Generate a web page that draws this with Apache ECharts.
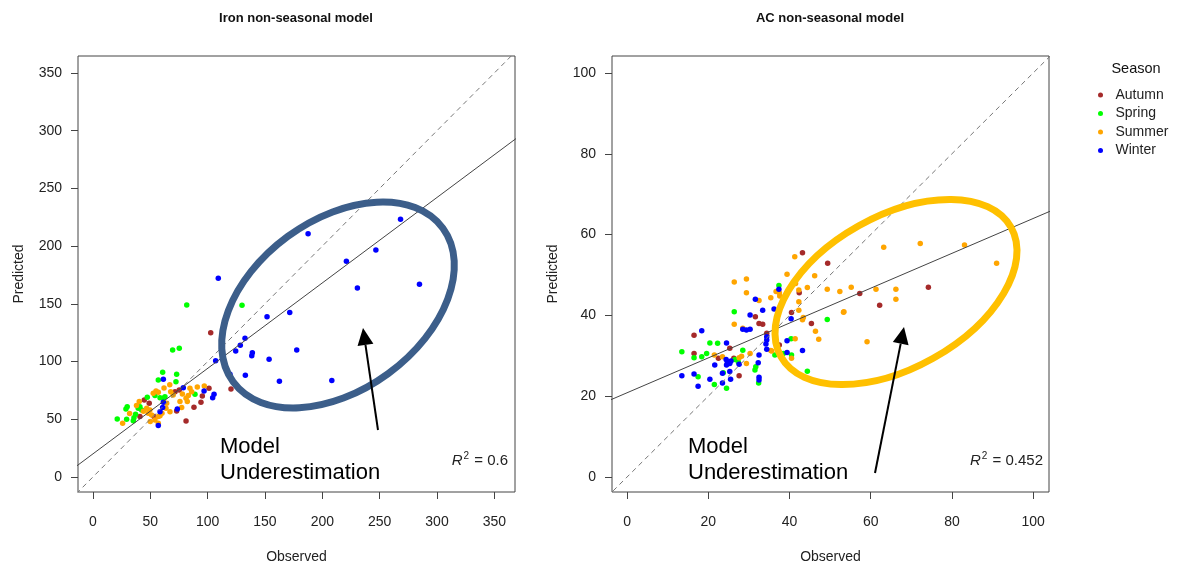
<!DOCTYPE html>
<html>
<head>
<meta charset="UTF-8">
<title>non-seasonal model</title>
<script src="https://cdn.jsdelivr.net/npm/echarts@6/dist/echarts.min.js"></script>
</head>
<body style="margin:0;background:#fff">
<div id="main" style="width:1184px;height:567px;"></div>
<script type="text/javascript">
// seasons + colours (R: brown, green, orange, blue)
var seasons = ['Autumn', 'Spring', 'Summer', 'Winter'];
var seasonColors = ['#A52A2A', '#00FF00', '#FFA500', '#0000FF'];

// Iron panel: [observed, predicted]
var ironAutumn = [[102.7,125],[120.4,76.3],[101.2,76.8],[95.4,70.2],[94.2,64.7],[88.1,60.4],[81.2,48.5],[71.6,73.9],[75.3,75.4],[73,57.2],[44.8,66.7],[49.1,63.9],[41,52.3],[53.2,52.3]];
var ironSpring = [[81.8,149],[130,148.8],[69.5,110],[75.3,111.5],[60.8,90.7],[73,89],[72.4,82.6],[57,84],[89,71.7],[54.1,70.5],[58.5,68.7],[62.8,69.6],[47.4,69.1],[39.5,59.5],[41,60.9],[42.5,58.1],[29.9,60.9],[28.8,58.9],[37.2,54.3],[35.8,51.4],[21.2,50.3],[29.4,50],[35.2,48.8],[61.4,68.2]];
var ironSummer = [[97.1,78.9],[84.6,76.9],[83.2,70.5],[81.2,68.2],[82.3,65.3],[75.9,65.3],[77.4,60.1],[67.8,73.9],[64.3,63.9],[63.7,59.5],[67.2,56.6],[55,74.5],[57,73.4],[52.6,72.5],[40.4,65.3],[46.9,59.5],[49.7,58.1],[48.3,55.2],[51.2,53.7],[25.9,46.5],[54.1,49.4],[57,52.3],[58.5,53.1],[57,46.5],[86.1,73.9],[70,71],[91,78],[60.2,55.2],[44,57],[38,62],[32,55],[50,48],[78,72],[62,77],[67,80]];
var ironWinter = [[109.3,172.2],[187.6,210.8],[268.2,223.3],[246.7,196.7],[221,186.9],[230.6,163.8],[284.7,167],[151.8,138.9],[171.6,142.4],[132.6,120.2],[128.5,114.1],[124.5,109.2],[139,107.7],[138.5,105.1],[153.6,102],[177.7,110],[107,100.8],[119.5,89],[132.9,88.1],[162.6,82.9],[208.3,83.5],[96.9,74.5],[105.6,71.7],[104.4,68.7],[78.8,77.4],[61.4,84.7],[61.4,64.7],[60.8,60.1],[73.6,58.9],[58.5,56.6],[57,44.5]];

// AC panel: [observed, predicted]
var acAutumn = [[43.2,55.5],[49.4,52.9],[40.5,40.7],[45.4,38],[31.6,39.7],[32.5,38],[33.4,37.8],[34.4,35.6],[37.5,32.7],[16.5,35.1],[16.5,30.6],[22.5,29.4],[25.3,31.9],[26.3,29.4],[27.6,25.1],[74.2,47],[57.3,45.4],[62.2,42.5],[42.4,45.6]];
var acSpring = [[37.4,47.4],[26.4,40.9],[49.3,39],[40.4,34.2],[36.4,30.2],[38.5,30.6],[40.5,30.2],[44.4,26.2],[20.4,33.2],[22.3,33.1],[13.5,31],[16.5,29.5],[18.4,29.8],[19.6,30.6],[26.6,29.1],[27.4,28.5],[28.5,31.4],[31.7,27.3],[31.5,26.5],[32.4,23.3],[17.5,24.8],[21.5,22.9],[24.5,22],[23.7,25.8]];
var acSummer = [[41.3,54.5],[46.2,49.8],[39.4,50.2],[44.4,46.9],[42.3,46.3],[49.3,46.5],[52.4,45.9],[41.5,47.9],[36.7,45.9],[37.5,45.6],[37.6,44.8],[35.4,44.4],[26.4,48.3],[29.4,49],[29.4,45.6],[32.5,43.7],[42.3,43.4],[42.3,41.3],[43.4,39.5],[43.2,38.9],[46.4,36.1],[47.2,34.1],[53.4,40.9],[26.4,37.8],[28.5,36.8],[41.4,34.2],[35.4,31.3],[40.5,29.4],[21.5,30.2],[23.5,29.8],[27.6,29.5],[28.2,29.9],[30.3,30.6],[29.4,28.1],[63.2,56.9],[72.2,57.8],[83.1,57.4],[91,52.9],[66.2,46.5],[66.2,44],[61.3,46.5],[55.2,47],[53.3,40.8],[59.1,33.5],[35.6,31.2]];
var acWinter = [[37.4,46.5],[31.6,44],[33.4,41.3],[36.2,41.6],[40.4,39.2],[30.3,40.1],[29.4,36.4],[30.3,36.6],[28.5,36.6],[34.4,33.9],[34.2,32.9],[39.4,33.7],[43.2,31.3],[34.4,31.6],[39.4,30.8],[18.4,36.2],[24.5,33.2],[24.4,29.1],[24.7,28.5],[25.3,28.1],[24.5,27.7],[27.6,27.9],[32.5,30.2],[32.3,28.3],[32.5,24.7],[32.5,24],[21.6,27.7],[23.5,25.7],[25.3,26.1],[25.5,24.2],[23.5,23.3],[20.4,24.2],[13.5,25.1],[16.5,25.5],[17.5,22.5],[34.4,34.7],[25.6,28.7]];

// reference lines (1:1 dashed, fitted solid), end points
var ironOneToOne = [[-20,-20],[380,380]];
var ironFit = [[-20,5.2],[380,301.4]];
var acOneToOne = [[-5,-5],[110,110]];
var acFit = [[-5,18.7],[110,68.3]];

// tick labels
var ironTicks = [0,50,100,150,200,250,300,350];
var acTicks = [0,20,40,60,80,100];

var FONT = '"Liberation Sans", Arial, sans-serif';

var myChart = echarts.init(document.getElementById('main'));

function xAxisOf(gi, min, max, ticks) {
    return {
        type: 'value', gridIndex: gi, min: min, max: max,
        name: 'Observed', nameLocation: 'middle', nameGap: 58,
        nameTextStyle: {fontSize: 14, color: '#222', fontFamily: FONT},
        axisLine: {show: false, onZero: false},
        splitLine: {show: false},
        axisTick: {show: true, length: 7, customValues: ticks, lineStyle: {color: '#444'}},
        axisLabel: {customValues: ticks, margin: 23, fontSize: 14, color: '#222', fontFamily: FONT}
    };
}
function yAxisOf(gi, min, max, ticks) {
    return {
        type: 'value', gridIndex: gi, min: min, max: max,
        name: 'Predicted', nameLocation: 'middle', nameGap: 52,
        nameTextStyle: {fontSize: 14, color: '#222', fontFamily: FONT},
        axisLine: {show: false, onZero: false},
        splitLine: {show: false},
        axisTick: {show: true, length: 7, customValues: ticks, lineStyle: {color: '#444'}},
        axisLabel: {customValues: ticks, margin: 16, fontSize: 14, color: '#222', fontFamily: FONT}
    };
}
function pts(i, data, gi) {
    return {
        type: 'scatter', name: seasons[i], xAxisIndex: gi, yAxisIndex: gi,
        data: data, symbolSize: 5.5, itemStyle: {color: seasonColors[i], opacity: 1},
        emphasis: {disabled: true}, z: 3
    };
}
function refLine(data, gi, dashed) {
    return {
        type: 'line', xAxisIndex: gi, yAxisIndex: gi, data: data,
        symbol: 'none', silent: true, clip: true, z: 4,
        lineStyle: {color: dashed ? '#777' : '#444', width: 1, type: dashed ? [5, 4] : 'solid'}
    };
}
// arrowhead triangle from tail to tip
function arrow(tail, tip) {
    var dx = tip[0] - tail[0], dy = tip[1] - tail[1];
    var len = Math.sqrt(dx * dx + dy * dy);
    var ux = dx / len, uy = dy / len;
    var bx = tip[0] - 17 * ux, by = tip[1] - 17 * uy;
    return [
        {type: 'line', shape: {x1: tail[0], y1: tail[1], x2: bx, y2: by}, style: {stroke: '#000', lineWidth: 2}, z: 20},
        {type: 'polygon', shape: {points: [tip, [bx - 8 * uy, by + 8 * ux], [bx + 8 * uy, by - 8 * ux]]}, style: {fill: '#000'}, z: 20}
    ];
}
function rsq(xRight, val) {
    return {
        type: 'text', x: xRight, y: 461, z: 20,
        style: {
            text: '{i|R}{s|2}{t| = ' + val + '}', align: 'right', verticalAlign: 'middle',
            textAlign: 'right', textVerticalAlign: 'middle',
            rich: {
                i: {fontStyle: 'italic', fontSize: 15, fontFamily: FONT, fill: '#222'},
                s: {fontSize: 10, fontFamily: FONT, fill: '#222', padding: [0, 1, 9, 1]},
                t: {fontSize: 15, fontFamily: FONT, fill: '#222'}
            }
        }
    };
}
function label(x, y, txt, size, weight) {
    return {
        type: 'text', x: x, y: y, z: 20,
        style: {text: txt, fontSize: size, fontWeight: weight || 'normal', fontFamily: FONT, fill: '#111',
            align: 'center', verticalAlign: 'middle', textAlign: 'center', textVerticalAlign: 'middle'}
    };
}

var graphics = [
    label(296, 18, 'Iron non-seasonal model', 13, 'bold'),
    label(830, 18, 'AC non-seasonal model', 13, 'bold'),
    label(1136, 69, 'Season', 14.5),
    rsq(508, '0.6'),
    rsq(1043, '0.452'),
    {type: 'ellipse', x: 338, y: 305, rotation: 36.2 * Math.PI / 180, shape: {cx: 0, cy: 0, rx: 130, ry: 85},
        style: {fill: 'none', stroke: '#3C5E8A', lineWidth: 7}, z: 10},
    {type: 'ellipse', x: 896, y: 292, rotation: 29.3 * Math.PI / 180, shape: {cx: 0, cy: 0, rx: 132, ry: 76},
        style: {fill: 'none', stroke: '#FFC000', lineWidth: 7}, z: 10},
    {type: 'text', x: 220, y: 460, z: 20, style: {text: 'Model\nUnderestimation', fontSize: 22, lineHeight: 26, fontFamily: FONT, fill: '#000', verticalAlign: 'middle', textVerticalAlign: 'middle'}},
    {type: 'text', x: 688, y: 460, z: 20, style: {text: 'Model\nUnderestimation', fontSize: 22, lineHeight: 26, fontFamily: FONT, fill: '#000', verticalAlign: 'middle', textVerticalAlign: 'middle'}}
].concat(arrow([378, 430], [363, 328]), arrow([875, 473], [904, 327]));

var series = [
    refLine(ironOneToOne, 0, true), refLine(ironFit, 0, false),
    refLine(acOneToOne, 1, true), refLine(acFit, 1, false),
    pts(0, ironAutumn, 0), pts(1, ironSpring, 0), pts(2, ironSummer, 0), pts(3, ironWinter, 0),
    pts(0, acAutumn, 1), pts(1, acSpring, 1), pts(2, acSummer, 1), pts(3, acWinter, 1)
];

var option = {
    backgroundColor: '#fff',
    animation: false,
    grid: [
        {left: 78, top: 56, width: 437, height: 436, show: true, borderColor: '#444', borderWidth: 1, outerBoundsMode: 'none', containLabel: false},
        {left: 612, top: 56, width: 437, height: 436, show: true, borderColor: '#444', borderWidth: 1, outerBoundsMode: 'none', containLabel: false}
    ],
    xAxis: [xAxisOf(0, -13, 368, ironTicks), xAxisOf(1, -3.7, 103.9, acTicks)],
    yAxis: [yAxisOf(0, -13, 364.7, ironTicks), yAxisOf(1, -3.7, 104.2, acTicks)],
    legend: {
        data: seasons, orient: 'vertical', left: 1093, top: 83,
        icon: 'circle', itemWidth: 20, itemHeight: 5, itemGap: 4.5,
        textStyle: {fontSize: 14, color: '#222', fontFamily: FONT},
        selectedMode: false
    },
    graphic: graphics,
    series: series
};
myChart.setOption(option);
</script>
</body>
</html>
